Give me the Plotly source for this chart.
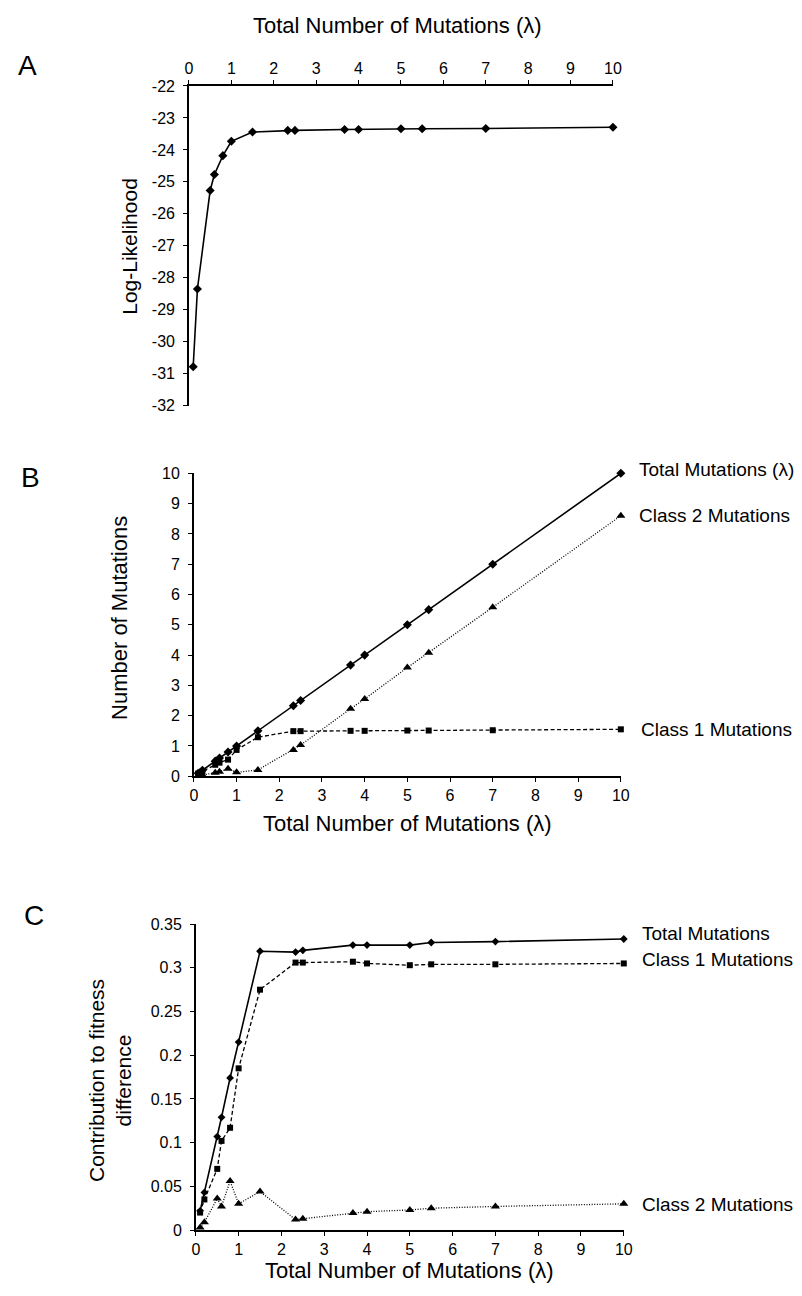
import plotly.graph_objects as go

# ---- data ----
lam = [0.1, 0.2, 0.5, 0.6, 0.8, 1.0, 1.5, 2.33, 2.5, 3.67, 4.0, 5.0, 5.5, 7.0, 10.0]
loglik = [-30.78, -28.35, -25.27, -24.77, -24.18, -23.73, -23.44, -23.39, -23.39,
          -23.36, -23.36, -23.34, -23.34, -23.33, -23.29]

num_total = [0.1, 0.2, 0.5, 0.6, 0.8, 1.0, 1.5, 2.33, 2.5, 3.67, 4.0, 5.0, 5.5, 7.0, 10.0]
num_class1 = [0.09, 0.16, 0.38, 0.45, 0.55, 0.87, 1.29, 1.49, 1.49, 1.50, 1.50, 1.51, 1.51, 1.52, 1.55]
num_class2 = [0.01, 0.04, 0.12, 0.15, 0.25, 0.13, 0.21, 0.87, 1.03, 2.23, 2.55, 3.59, 4.08, 5.58, 8.60]

fit_total = [0.022, 0.043, 0.107, 0.129, 0.174, 0.215, 0.319, 0.318, 0.320, 0.326, 0.326, 0.326, 0.329, 0.330, 0.333]
fit_class1 = [0.020, 0.035, 0.070, 0.102, 0.117, 0.185, 0.275, 0.306, 0.306, 0.307, 0.305, 0.303, 0.304, 0.304, 0.305]
fit_class2 = [0.003, 0.009, 0.036, 0.027, 0.056, 0.030, 0.044, 0.012, 0.013, 0.0195, 0.021, 0.023, 0.025, 0.027, 0.030]

x_ticks = [0, 1, 2, 3, 4, 5, 6, 7, 8, 9, 10]
a_y_ticks = [-22, -23, -24, -25, -26, -27, -28, -29, -30, -31, -32]
a_y_labels = ["-22", "-23", "-24", "-25", "-26", "-27", "-28", "-29", "-30", "-31", "-32"]
b_y_ticks = [0, 1, 2, 3, 4, 5, 6, 7, 8, 9, 10]
c_y_ticks = [0, 0.05, 0.1, 0.15, 0.2, 0.25, 0.3, 0.35]
c_y_labels = ["0", "0.05", "0.1", "0.15", "0.2", "0.25", "0.3", "0.35"]

xtitle = "Total Number of Mutations (λ)"

# ---- layout geometry (pixels) ----
W, H = 802, 1296
FONT = "Liberation Sans, Arial, sans-serif"


def px_x(p):
    return p / W


def px_y(p):
    return 1 - p / H


fig = go.Figure()

solid = dict(color="black", width=1.6)
dashed = dict(color="black", width=1.3, dash="4px,2.5px")
dotted = dict(color="black", width=1.3, dash="1px,1.6px")

m_square = dict(symbol="square", size=6, color="black")
m_tri = dict(symbol="triangle-up", size=8, color="black")

# Panel A
fig.add_trace(go.Scatter(x=lam, y=loglik, mode="lines+markers", line=solid,
                         marker=dict(symbol="diamond", size=7, color="black"),
                         xaxis="x", yaxis="y", cliponaxis=False))

# Panel B
fig.add_trace(go.Scatter(x=lam, y=num_class2, mode="lines+markers", line=dotted,
                         marker=m_tri, xaxis="x2", yaxis="y2", cliponaxis=False))
fig.add_trace(go.Scatter(x=lam, y=num_class1, mode="lines+markers", line=dashed,
                         marker=m_square, xaxis="x2", yaxis="y2", cliponaxis=False))
fig.add_trace(go.Scatter(x=lam, y=num_total, mode="lines+markers", line=solid,
                         marker=dict(symbol="diamond", size=7, color="black"),
                         xaxis="x2", yaxis="y2", cliponaxis=False))

# Panel C
fig.add_trace(go.Scatter(x=lam, y=fit_class2, mode="lines+markers", line=dotted,
                         marker=m_tri, xaxis="x3", yaxis="y3", cliponaxis=False))
fig.add_trace(go.Scatter(x=lam, y=fit_class1, mode="lines+markers", line=dashed,
                         marker=m_square, xaxis="x3", yaxis="y3", cliponaxis=False))
fig.add_trace(go.Scatter(x=lam, y=fit_total, mode="lines+markers", line=solid,
                         marker=dict(symbol="diamond", size=6, color="black"),
                         xaxis="x3", yaxis="y3", cliponaxis=False))

axis_common = dict(showgrid=False, zeroline=False, showline=True, linecolor="black",
                   linewidth=1.6, ticks="outside", ticklen=4, tickwidth=1.2,
                   tickcolor="black", tickfont=dict(family=FONT, size=16, color="black"),
                   fixedrange=True)

fig.update_layout(
    width=W, height=H,
    margin=dict(l=0, r=0, t=0, b=0),
    paper_bgcolor="white", plot_bgcolor="white",
    showlegend=False,
    font=dict(family=FONT, color="black"),
    # Panel A
    xaxis=dict(domain=[px_x(188), px_x(619)], range=[0, 10], tickvals=x_ticks,
               side="top", anchor="y", **axis_common),
    yaxis=dict(domain=[px_y(403), px_y(79)], range=[-32, -22], tickvals=a_y_ticks,
               ticktext=a_y_labels, anchor="x", ticklabelstandoff=5, **axis_common),
    # Panel B
    xaxis2=dict(domain=[px_x(193), px_x(627)], range=[0, 10], tickvals=x_ticks,
                anchor="y2", **axis_common),
    yaxis2=dict(domain=[px_y(778.5), px_y(471.5)], range=[0, 10], tickvals=b_y_ticks,
                anchor="x2", ticklabelstandoff=5, **axis_common),
    # Panel C
    xaxis3=dict(domain=[px_x(195), px_x(630)], range=[0, 10], tickvals=x_ticks,
                anchor="y3", **axis_common),
    yaxis3=dict(domain=[px_y(1238.3), px_y(928.3)], range=[0, 0.35], tickvals=c_y_ticks,
                ticktext=c_y_labels, anchor="x3", ticklabelstandoff=5, **axis_common),
)


def ann(text, x, y, size, xanchor="center", angle=0):
    fig.add_annotation(text=text, x=px_x(x), y=px_y(y), xref="paper", yref="paper",
                       showarrow=False, xanchor=xanchor, yanchor="middle",
                       textangle=angle, font=dict(family=FONT, size=size, color="black"))


# panel letters
ann("A", 24, 58, 28)
ann("B", 27, 476, 28)
ann("C", 30, 920, 28)

# x-axis titles
ann(xtitle, 400, 18, 22)
ann(xtitle, 410, 826, 22)
ann(xtitle, 412, 1279, 22)

# y-axis titles
ann("Log-Likelihood", 128, 241, 21, angle=-90)
ann("Number of Mutations", 118, 618, 22, angle=-90)
ann("Contribution to fitness<br>difference", 107, 1087, 21, angle=-90)

# series labels
ann("Total Mutations (λ)", 643, 468, 19, xanchor="left")
ann("Class 2 Mutations", 643, 514, 19, xanchor="left")
ann("Class 1 Mutations", 645, 731, 19, xanchor="left")
ann("Total Mutations", 646, 938, 19, xanchor="left")
ann("Class 1 Mutations", 646, 964, 19, xanchor="left")
ann("Class 2 Mutations", 646, 1212, 19, xanchor="left")

fig.write_html("out.html")
